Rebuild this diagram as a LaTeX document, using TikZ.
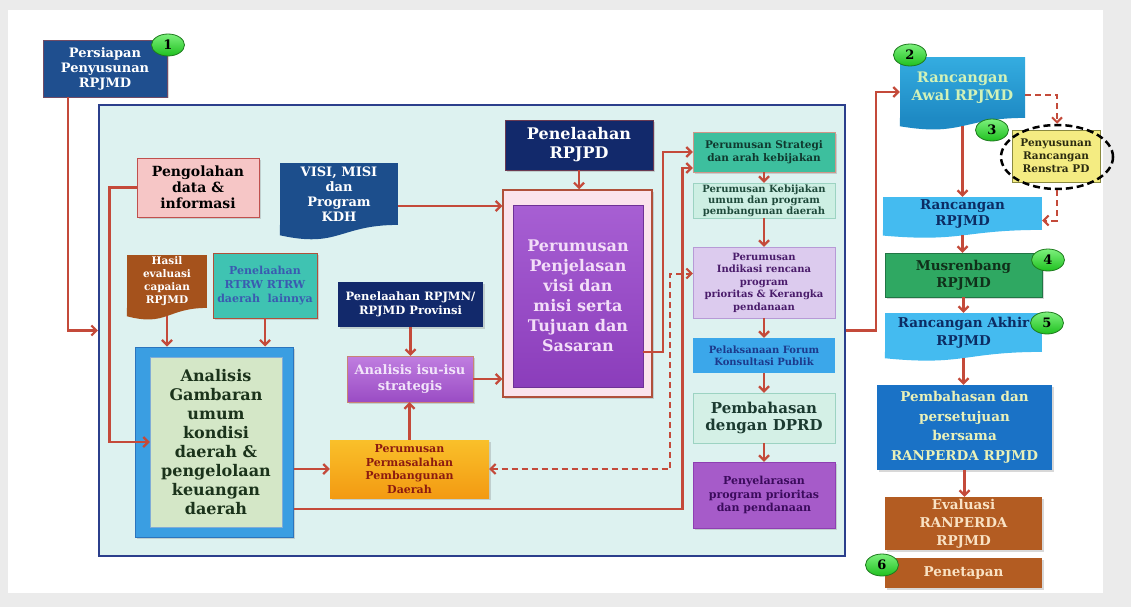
\documentclass[tikz,border=0pt]{standalone}
\usepackage{fontspec}
\setmainfont{DejaVu Serif}
\usetikzlibrary{arrows.meta,calc,shadows,shapes.geometric}
\definecolor{bgray}{HTML}{EBEBEB}
\definecolor{linered}{HTML}{C44A3A}
\definecolor{bigfill}{HTML}{DDF2F0}
\definecolor{bigdraw}{HTML}{2B3F8C}
\definecolor{nblue}{HTML}{1F4F8F}
\definecolor{navy}{HTML}{12296B}
\definecolor{pengfill}{HTML}{F6C6C6}
\definecolor{pengdraw}{HTML}{C0504D}
\definecolor{visiblue}{HTML}{1C4E8C}
\definecolor{peroutfill}{HTML}{FBE3EC}
\definecolor{peroutdraw}{HTML}{B0503A}
\definecolor{perintop}{HTML}{A75FD3}
\definecolor{perinbot}{HTML}{8B3DBB}
\definecolor{perintext}{HTML}{F3DDF8}
\definecolor{hasilbrown}{HTML}{A5521C}
\definecolor{rtrwfill}{HTML}{3FC3B2}
\definecolor{rtrwtext}{HTML}{3A5BB0}
\definecolor{analblue}{HTML}{3A9EE2}
\definecolor{analdraw}{HTML}{2B75BD}
\definecolor{analin}{HTML}{D4E7C7}
\definecolor{analtext}{HTML}{1B331B}
\definecolor{isutop}{HTML}{C07EE0}
\definecolor{isubot}{HTML}{9A4CC4}
\definecolor{isutext}{HTML}{F2E4FA}
\definecolor{masaltop}{HTML}{F9C02A}
\definecolor{masalbot}{HTML}{F39A12}
\definecolor{masaltext}{HTML}{8C1B10}
\definecolor{stratfill}{HTML}{3DBF9E}
\definecolor{strattext}{HTML}{10392F}
\definecolor{kebijfill}{HTML}{CDEFE3}
\definecolor{kebijdraw}{HTML}{9CD3C2}
\definecolor{kebijtext}{HTML}{1F4A3B}
\definecolor{indikfill}{HTML}{DCCBEE}
\definecolor{indikdraw}{HTML}{B79AD6}
\definecolor{indiktext}{HTML}{4A1C6B}
\definecolor{forumfill}{HTML}{3BA7EA}
\definecolor{forumtext}{HTML}{1C3A8C}
\definecolor{dprdfill}{HTML}{D4F0E6}
\definecolor{dprdtext}{HTML}{1B3A30}
\definecolor{selarasfill}{HTML}{A65BC9}
\definecolor{selarasdraw}{HTML}{8E3FB2}
\definecolor{selarastext}{HTML}{3B0B5C}
\definecolor{awaltop}{HTML}{34ACE0}
\definecolor{awalbot}{HTML}{1E8AC4}
\definecolor{awaltext}{HTML}{D2F2B8}
\definecolor{renstrafill}{HTML}{F4EC82}
\definecolor{renstradraw}{HTML}{8A8A40}
\definecolor{renstratext}{HTML}{2B2B10}
\definecolor{rancfill}{HTML}{44BBF0}
\definecolor{ranctext}{HTML}{0C2C63}
\definecolor{musrenfill}{HTML}{2FA862}
\definecolor{musrentext}{HTML}{10301A}
\definecolor{pembfill}{HTML}{1A72C6}
\definecolor{pembtext}{HTML}{E9F1B9}
\definecolor{evalbrown}{HTML}{B35C22}
\definecolor{evaltext}{HTML}{F9E2C4}
\definecolor{badgetop}{HTML}{7CF07C}
\definecolor{badgebot}{HTML}{1FC01F}
\definecolor{badgedraw}{HTML}{1E7A1E}
\newcommand{\doctail}[3]{\fill[#2] ($(#1.south east)+(0,-0.3)$) .. controls ($(#1.south)+(0,-0.3)$) and ($(#1.south)+(0,{1.55*#3})$) .. ($(#1.south west)+(0,{0.67*#3})$) -- ($(#1.south west)+(0,-0.3)$) -- cycle;}
\tikzset{mytip/.tip={Straight Barb[length=5pt,width=10pt]}}
\begin{document}
\begin{tikzpicture}[x=1pt,y=-1pt,
  box/.style={rectangle, align=center, inner sep=1pt},
  wh/.style 2 args={minimum width=#1pt, minimum height=#2pt},
  fs/.style 2 args={font=\fontsize{#1}{#2}\selectfont\bfseries},
  sh/.style={drop shadow={shadow xshift=1.5pt,shadow yshift=-1.5pt,opacity=0.3}},
  arr/.style={draw=linered, line width=2.2pt, -mytip},
  darr/.style={draw=linered, line width=2pt, dash pattern=on 6pt off 4pt},
  badge/.style={ellipse, top color=badgetop, bottom color=badgebot, draw=badgedraw, line width=0.8pt, minimum width=33pt, minimum height=22pt, inner sep=0pt, font=\fontsize{13}{13}\selectfont\bfseries, text=black}
]
\useasboundingbox (0,0) rectangle (1131,607);
\fill[bgray] (0,0) rectangle (1131,607);
\fill[white] (8,10) rectangle (1103,593);

% main frame
\node[box, draw=bigdraw, line width=2.2pt, fill=bigfill, wh={746}{451}] (big) at (472,330.5) {};

\node[box, sh, fill=nblue, draw=linered!50!nblue, wh={124}{57}, fs={13}{15}, text=white] (n1) at (105,68.5) {Persiapan\\Penyusunan\\RPJMD};

\node[box, sh, fill=pengfill, draw=pengdraw, line width=1pt, wh={122}{59}, fs={14}{16}, text=black] (peng) at (198,187.5) {Pengolahan\\data \&\\informasi};

\node[box, fill=visiblue, wh={118}{62}, fs={13}{15}, text=white] (visi) at (339,194) {VISI, MISI\\dan\\Program\\KDH};
\doctail{visi}{visiblue}{15}

\node[box, sh, fill=navy, draw=linered!50!navy, wh={148}{50}, fs={16}{19}, text=white] (rpjpd) at (579,145) {Penelaahan\\RPJPD};

\node[box, sh, fill=peroutfill, draw=peroutdraw, line width=1.5pt, wh={149}{207}] (perout) at (577.5,293.5) {};
\node[box, top color=perintop, bottom color=perinbot, draw=perinbot!80!black, wh={130}{182}, fs={16}{20}, text=perintext] (perin) at (578,296) {Perumusan\\Penjelasan\\visi dan\\misi serta\\Tujuan dan\\Sasaran};

\node[box, fill=hasilbrown, wh={80}{53}, fs={10.5}{13}, text=white] (hasil) at (167,281.5) {Hasil\\evaluasi\\capaian\\RPJMD};
\doctail{hasil}{hasilbrown}{12}

\node[box, sh, fill=rtrwfill, draw=peroutdraw, wh={104}{65}, fs={11}{14}, text=rtrwtext] (rtrw) at (265,285.5) {Penelaahan\\RTRW RTRW\\daerah~~lainnya};

\node[box, sh, fill=analblue, draw=analdraw, line width=1pt, wh={158}{190}] (anal) at (214,442) {};
\node[box, fill=analin, draw=analdraw!60, wh={132}{170}, fs={16}{19}, text=analtext] (analin) at (216,442) {Analisis\\Gambaran\\umum\\kondisi\\daerah \&\\pengelolaan\\keuangan\\daerah};

\node[box, sh, fill=navy, wh={145}{45}, fs={11.5}{14}, text=white] (rpjmn) at (410.5,304.5) {Penelaahan RPJMN/\\RPJMD Provinsi};

\node[box, sh, top color=isutop, bottom color=isubot, draw=peroutdraw!70, wh={126}{46}, fs={13}{16}, text=isutext] (isu) at (410,379) {Analisis isu-isu\\strategis};

\node[box, sh, top color=masaltop, bottom color=masalbot, wh={159}{58}, fs={11}{13.5}, text=masaltext] (masalah) at (409.5,469) {Perumusan\\Permasalahan\\Pembangunan\\Daerah};

% inner right column
\node[box, sh, fill=stratfill, draw=peroutdraw!60, wh={142}{40}, fs={10.5}{13}, text=strattext] (strat) at (764,152) {Perumusan Strategi\\dan arah kebijakan};
\node[box, fill=kebijfill, draw=kebijdraw, wh={142}{35}, fs={10}{11}, text=kebijtext] (kebij) at (764,200.5) {Perumusan Kebijakan\\umum dan program\\pembangunan daerah};
\node[box, fill=indikfill, draw=indikdraw, wh={142}{71}, fs={10}{12.5}, text=indiktext] (indik) at (764,282.5) {Perumusan\\Indikasi rencana\\program\\prioritas \& Kerangka\\pendanaan};
\node[box, fill=forumfill, wh={142}{35}, fs={10}{12}, text=forumtext] (forum) at (764,355.5) {Pelaksanaan Forum\\Konsultasi Publik};
\node[box, fill=dprdfill, draw=kebijdraw, wh={142}{50}, fs={15}{17}, text=dprdtext] (dprd) at (764,418) {Pembahasan\\dengan DPRD};
\node[box, sh, fill=selarasfill, draw=selarasdraw, wh={142}{66}, fs={11}{13.5}, text=selarastext] (selaras) at (764,495) {Penyelarasan\\program prioritas\\dan pendanaan};

% outer right column
\node[box, top color=awaltop, bottom color=awalbot, wh={125}{60}, fs={14.5}{18}, text=awaltext] (awal) at (962.5,88) {Rancangan\\Awal RPJMD};
\doctail{awal}{awalbot}{12}

\node[box, fill=renstrafill, draw=renstradraw, wh={88}{52}, fs={10.5}{13}, text=renstratext] (renstra) at (1056,156) {Penyusunan\\Rancangan\\Renstra PD};
\node[ellipse, draw=black, line width=2.5pt, dash pattern=on 7pt off 4pt, minimum width=112pt, minimum height=64pt] (ell) at (1057,157) {};

\node[box, fill=rancfill, inner sep=0pt, wh={159}{33}, fs={13.5}{16}, text=ranctext] (ranc) at (962.5,213.5) {Rancangan\\RPJMD};
\doctail{ranc}{rancfill}{8}

\node[box, sh, fill=musrenfill, draw=musrenfill!70!black, wh={157}{44}, fs={13.5}{17}, text=musrentext] (musren) at (963.5,275) {Musrenbang\\RPJMD};

\node[box, fill=rancfill, wh={157}{39}, fs={13.5}{18}, text=ranctext] (akhir) at (963.5,332.5) {Rancangan Akhir\\RPJMD};
\doctail{akhir}{rancfill}{9}

\node[box, sh, fill=pembfill, wh={175}{85}, fs={13.5}{19.5}, text=pembtext] (pemb) at (964.5,427.5) {Pembahasan dan\\persetujuan\\bersama\\RANPERDA RPJMD};

\node[box, sh, fill=evalbrown, inner sep=0pt, wh={157}{53}, fs={13.5}{18}, text=evaltext] (eval) at (963.5,523.5) {Evaluasi\\RANPERDA\\RPJMD};

\node[box, sh, fill=evalbrown, wh={157}{30}, fs={13.5}{16}, text=evaltext] (penet) at (963.5,573) {Penetapan};

% connectors
\draw[arr] ([xshift=25pt]n1.south west) |- (big.west);
\draw[arr] (peng.west) -- ++(-27,0) |- (analin.west);
\draw[arr] ([yshift=-12pt]visi.east) coordinate (v1) -- (v1 -| perout.west);
\draw[arr] (rpjpd.south) -- (rpjpd.south |- perout.north);
\draw[arr] ($(hasil.south)+(0,8)$) coordinate (h1) -- (h1 |- anal.north);
\draw[arr] (rtrw.south) -- (rtrw.south |- anal.north);
\draw[arr] (rpjmn.south) -- (rpjmn.south |- isu.north);
\draw[arr] (isu.east) -- (isu.east -| perout.west);
\draw[arr] (masalah.west -| anal.east) -- (masalah.west);
\draw[arr] (masalah.north) -- (masalah.north |- isu.south);
\draw[arr] ([yshift=-67pt]anal.east) -- ++(389,0) |- ([yshift=-16pt]strat.west);
\draw[arr] ([yshift=-56pt]perin.east) -- ++(20,0) |- (strat.west);
\draw[darr, mytip-mytip] (masalah.east) -- ++(181,0) |- ([yshift=9pt]indik.west);
\foreach \a/\b in {strat/kebij, kebij/indik, indik/forum, forum/dprd, dprd/selaras}
  \draw[arr] (\a.south) -- (\b.north);

\draw[arr] (big.east) -- ++(30,0) |- ([yshift=-4pt]awal.west);
\draw[arr] ($(awal.south)+(0,8)$) coordinate (aw1) -- (aw1 |- ranc.north);
\draw[darr, -mytip] ([yshift=-7pt]awal.east) -| (ell.north);
\draw[darr, -mytip] (ell.south) |- ([yshift=-7pt]ranc.east);
\draw[arr] ($(ranc.south)+(0,5)$) coordinate (r1) -- (r1 |- musren.north);
\draw[arr] (musren.south) -- (musren.south |- akhir.north);
\draw[arr] ($(akhir.south)+(0,6)$) coordinate (ak1) -- (ak1 |- pemb.north);
\draw[arr] (pemb.south) -- (pemb.south |- eval.north);

% badges
\node[badge] (b1) at (168,45) {1};
\node[badge] (b2) at (910,55) {2};
\node[badge] (b3) at (992,130) {3};
\node[badge] (b4) at (1048,260) {4};
\node[badge] (b5) at (1047,323) {5};
\node[badge] (b6) at (882,565) {6};
\end{tikzpicture}
\end{document}
